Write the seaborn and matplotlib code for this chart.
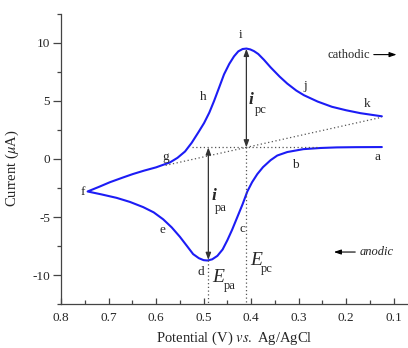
import numpy as np
import pandas as pd
import seaborn as sns
import matplotlib.pyplot as plt

# ---- data ----
# anodic (lower) branch, from a to f
bottom_E = [0.125, 0.18, 0.22, 0.254, 0.29, 0.324, 0.345, 0.359, 0.375, 0.387,
            0.398, 0.408, 0.418, 0.429, 0.44, 0.45, 0.46, 0.471, 0.482, 0.492,
            0.50, 0.51, 0.522, 0.535, 0.55, 0.567, 0.585, 0.605, 0.627, 0.655,
            0.683, 0.715, 0.744]
bottom_I = [1.03, 1.02, 1.0, 0.95, 0.85, 0.6, 0.3, -0.1, -0.7, -1.3,
            -2.0, -2.8, -3.9, -5.0, -6.1, -7.0, -7.8, -8.35, -8.65, -8.75,
            -8.72, -8.55, -8.2, -7.5, -6.7, -5.9, -5.2, -4.6, -4.15, -3.7,
            -3.35, -3.05, -2.8]
# cathodic (upper) branch, from f to the end
top_E = [0.72, 0.697, 0.67, 0.649, 0.625, 0.6, 0.585, 0.571, 0.555, 0.539,
         0.525, 0.511, 0.499, 0.488, 0.478, 0.467, 0.457, 0.446, 0.436, 0.427,
         0.418, 0.41, 0.402, 0.394, 0.385, 0.373, 0.359, 0.34, 0.324, 0.305, 0.289,
         0.26, 0.23, 0.2, 0.17, 0.145, 0.125]
top_I = [-2.4, -2.0, -1.6, -1.3, -1.0, -0.72, -0.5, -0.3, 0.1, 0.65,
         1.4, 2.3, 3.1, 4.0, 5.0, 6.2, 7.3, 8.2, 8.85, 9.28,
         9.48, 9.52, 9.45, 9.3, 9.05, 8.55, 7.9, 7.1, 6.5, 5.9, 5.5,
         4.95, 4.5, 4.2, 3.95, 3.8, 3.68]

# peak / baseline values
E_pc, i_pc_peak = 0.41, 9.5
E_pa, i_pa_peak = 0.49, -8.7
base_level = 1.0
slope_base_E = [0.58, 0.125]
slope_base_I = [-0.55, 3.6]
flat_base_E = [0.525, 0.262]

xticks = [0.8, 0.7, 0.6, 0.5, 0.4, 0.3, 0.2, 0.1]
yticks = [-10, -5, 0, 5, 10]

point_labels = ['a', 'b', 'c', 'd', 'e', 'f', 'g', 'h', 'i', 'j', 'k']
label_E = [0.135, 0.307, 0.419, 0.506, 0.586, 0.754, 0.58, 0.50, 0.422, 0.286, 0.156]
label_I = [0.17, -0.54, -6.06, -9.74, -6.15, -2.81, 0.17, 5.34, 10.66, 6.27, 4.77]

# ---- styling ----
sns.set_theme(style='ticks')
plt.rcParams['font.family'] = ['Liberation Serif', 'DejaVu Serif']
plt.rcParams['mathtext.fontset'] = 'stix'
plt.rcParams['axes.unicode_minus'] = False

fig = plt.figure(figsize=(4.08, 3.48), dpi=100)
ax = fig.add_axes([61 / 408, 44 / 348, 347 / 408, 290 / 348])

E_all = bottom_E + top_E
I_all = bottom_I + top_I
df = pd.DataFrame({'E': E_all, 'I': I_all})
sns.lineplot(data=df, x='E', y='I', sort=False, estimator=None,
             color='#1c1cf5', lw=1.5, ax=ax)

dot = dict(color='#555555', lw=0.9, ls=(0, (1, 2)))
ax.plot(slope_base_E, slope_base_I, **dot)
ax.plot(flat_base_E, [base_level, base_level], **dot)
ax.plot([E_pc, E_pc], [base_level, -12.5], **dot)
ax.plot([E_pa, E_pa], [i_pa_peak, -12.5], **dot)

arr = dict(arrowstyle='<|-|>,head_length=0.35,head_width=0.13', color='#333333',
           lw=0.9, shrinkA=0, shrinkB=0)
ax.annotate('', xy=(E_pc, i_pc_peak), xytext=(E_pc, base_level), arrowprops=arr)
ax.annotate('', xy=(E_pa, i_pa_peak), xytext=(E_pa, base_level), arrowprops=arr)

for t, x, y in zip(point_labels, label_E, label_I):
    ax.text(x, y, t, fontsize=9.5, ha='center', va='center')

# i_pc, i_pa
ax.text(0.3995, 5.06, 'i', fontsize=12.5, fontweight='bold', fontstyle='italic',
        ha='center', va='center')
ax.text(0.380, 4.2, 'pc', fontsize=9, ha='center', va='center')
ax.text(0.478, -3.17, 'i', fontsize=12.5, fontweight='bold', fontstyle='italic',
        ha='center', va='center')
ax.text(0.463, -4.19, 'pa', fontsize=9, ha='center', va='center')
# E_pa, E_pc
ax.text(0.470, -10.2, 'E', fontsize=14, fontstyle='italic', ha='center', va='center')
ax.text(0.445, -10.95, 'pa', fontsize=9, ha='center', va='center')
ax.text(0.390, -8.79, 'E', fontsize=14, fontstyle='italic', ha='center', va='center')
ax.text(0.367, -9.5, 'pc', fontsize=9, ha='center', va='center')

# direction annotations
ax.text(0.194, 9.0, 'cathodic', fontsize=9, ha='center', va='center')
ax.annotate('', xy=(0.094, 9.0), xytext=(0.142, 9.0),
            arrowprops=dict(arrowstyle='-|>,head_length=0.35,head_width=0.12',
                            color='black', lw=0.8, shrinkA=0, shrinkB=0))
ax.text(0.136, -8.02, 'anodic', fontsize=9, fontstyle='italic', ha='center', va='center')
ax.annotate('', xy=(0.226, -8.02), xytext=(0.181, -8.02),
            arrowprops=dict(arrowstyle='-|>,head_length=0.35,head_width=0.12',
                            color='black', lw=0.8, shrinkA=0, shrinkB=0))

# axes
ax.set_xlim(0.8, 0.07)
ax.set_ylim(-12.5, 12.5)
ax.set_xticks(xticks)
ax.set_xticklabels([f'{v:.1f}' for v in xticks])
ax.set_xticks([0.75, 0.65, 0.55, 0.45, 0.35, 0.25, 0.15], minor=True)
ax.set_yticks(yticks)
ax.set_yticklabels([str(v) for v in yticks])
ax.set_yticks([-12.5, -7.5, -2.5, 2.5, 7.5, 12.5], minor=True)
ax.tick_params(axis='x', which='major', direction='in', length=4, width=0.9,
               labelsize=9.5, pad=6, color='#444444')
ax.tick_params(axis='x', which='minor', direction='in', length=3, width=0.9,
               color='#444444')
ax.tick_params(axis='y', which='major', direction='out', length=6, width=0.9,
               labelsize=9.5, pad=2, color='#444444')
ax.tick_params(axis='y', which='minor', direction='out', length=3, width=0.9,
               color='#444444')
for s in ['top', 'right']:
    ax.spines[s].set_visible(False)
for s in ['left', 'bottom']:
    ax.spines[s].set_color('#444444')
    ax.spines[s].set_linewidth(0.9)

ax.set_xlabel('Potential (V) $\\mathit{vs.}$ Ag/AgCl', fontsize=10.5)
ax.set_ylabel('Current ($\\mu$A)', fontsize=10.5)
ax.xaxis.set_label_coords(0.5, -0.088)
ax.yaxis.set_label_coords(-0.115, 0.467)

fig.savefig('out.png', dpi=100)
